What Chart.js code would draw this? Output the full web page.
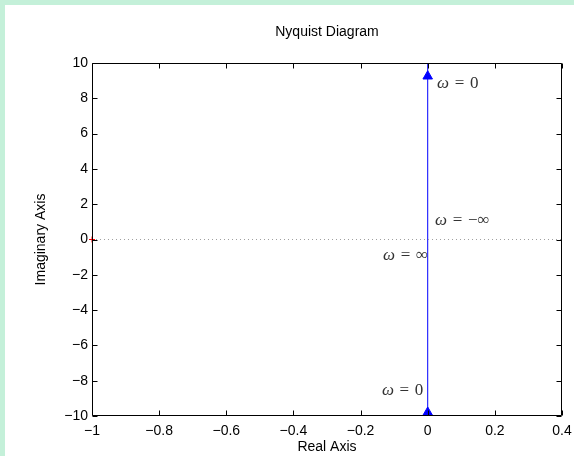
<!DOCTYPE html>
<html>
<head>
<meta charset="utf-8">
<script src="https://cdn.jsdelivr.net/npm/chart.js@4/dist/chart.umd.min.js"></script>
<style>
  html, body { margin: 0; padding: 0; background: #c4f0d9; width: 574px; height: 456px; overflow: hidden; }
  #wrap { position: absolute; left: 5px; top: 5px; width: 569px; height: 451px; background: #fff; }
</style>
</head>
<body>
<div id="wrap"><canvas id="myChart" width="569" height="451"></canvas></div>
<script>
// nyquist curve: vertical line on the imaginary axis
const curveRe = [0, 0];
const curveIm = [-10, 10];
// direction arrows
const arrowRe = [0, 0];
const arrowIm = [9.25, -9.8];
// critical point
const critRe = [-1];
const critIm = [0];
// dotted zero line
const zeroRe = [-1, 0.4];
const zeroIm = [0, 0];

const xTicks = [-1, -0.8, -0.6, -0.4, -0.2, 0, 0.2, 0.4];
const yTicks = [-10, -8, -6, -4, -2, 0, 2, 4, 6, 8, 10];

// omega annotations (value after "omega =")
const noteText = ['0', '\u2212\u221e', '\u221e', '0'];
const noteRe = [0.028, 0.022, 0.001, -0.013];
const noteIm = [8.83, 1.1, -0.89, -8.55];
const noteAlign = ['left', 'left', 'right', 'right'];

const pts = (xs, ys) => xs.map((x, i) => ({ x: x, y: ys[i] }));
const fmt = v => String(Math.round(v * 10) / 10).replace('-', '\u2212');
const SANS = '"Liberation Sans", Arial, sans-serif';

const boxPlugin = {
  id: 'box',
  afterDraw(chart) {
    const { ctx, chartArea: a, scales: { x, y } } = chart;
    ctx.save();
    ctx.strokeStyle = '#000';
    ctx.lineWidth = 1;
    ctx.beginPath();
    const L = Math.round(a.left) + 0.5, R = Math.round(a.right) - 0.5;
    const T = Math.round(a.top) + 0.5, B = Math.round(a.bottom) - 0.5;
    ctx.rect(L, T, R - L, B - T);
    xTicks.forEach(v => {
      const px = Math.round(x.getPixelForValue(v)) + 0.5;
      ctx.moveTo(px, B); ctx.lineTo(px, B - 5);
      ctx.moveTo(px, T); ctx.lineTo(px, T + 5);
    });
    yTicks.forEach(v => {
      const py = Math.round(y.getPixelForValue(v)) + 0.5;
      ctx.moveTo(L, py); ctx.lineTo(L + 5, py);
      ctx.moveTo(R, py); ctx.lineTo(R - 5, py);
    });
    ctx.stroke();

    // title centred over the axes
    ctx.fillStyle = '#000';
    ctx.font = '14px ' + SANS;
    ctx.textAlign = 'center';
    ctx.textBaseline = 'middle';
    ctx.fillText('Nyquist Diagram', (a.left + a.right) / 2, 27);

    // annotations: italic omega + upright rest
    ctx.fillStyle = '#333';
    ctx.textAlign = 'left';
    const omFont = 'italic 17px "Liberation Serif", serif';
    const rmFont = '17px "Liberation Serif", serif';
    noteText.forEach((t, i) => {
      ctx.font = omFont;
      const wo = ctx.measureText('\u03c9').width;
      ctx.font = rmFont;
      const rest = ' \u200a=\u200a ' + t;
      const wr = ctx.measureText(rest).width;
      let px = x.getPixelForValue(noteRe[i]);
      const py = y.getPixelForValue(noteIm[i]);
      if (noteAlign[i] === 'right') px -= wo + wr;
      ctx.font = omFont;
      ctx.fillText('\u03c9', px, py);
      ctx.font = rmFont;
      ctx.fillText(rest, px + wo, py);
    });
    ctx.restore();
  }
};

const ctx = document.getElementById('myChart').getContext('2d');
new Chart(ctx, {
  type: 'scatter',
  data: {
    datasets: [
      {
        data: pts(zeroRe, zeroIm), showLine: true, borderColor: '#a0a0a0',
        borderWidth: 1, borderDash: [1, 3], pointRadius: 0
      },
      {
        data: pts(curveRe, curveIm), showLine: true, borderColor: '#0000ff',
        borderWidth: 1, pointRadius: 0
      },
      {
        data: pts(arrowRe, arrowIm), showLine: false, pointStyle: 'triangle',
        pointRadius: 5.5, backgroundColor: '#0000ff', borderColor: '#0000ff', borderWidth: 1, clip: false
      },
      {
        data: pts(critRe, critIm), showLine: false, pointStyle: 'cross',
        pointRadius: 3, borderColor: '#ff0000', borderWidth: 1, clip: false
      }
    ]
  },
  options: {
    responsive: false,
    animation: false,
    layout: { padding: { top: 58, right: 12, left: 0, bottom: 0 } },
    plugins: { legend: { display: false }, tooltip: { enabled: false } },
    scales: {
      x: {
        type: 'linear', min: -1, max: 0.4,
        grid: { display: false, drawTicks: false },
        border: { display: false },
        afterBuildTicks: s => { s.ticks = xTicks.map(v => ({ value: v })); },
        afterFit: s => { s.height = 40; s.paddingLeft = 0; s.paddingRight = 0; },
        ticks: { padding: 7, color: '#000', font: { size: 14, family: SANS }, callback: fmt, maxRotation: 0 },
        title: { display: true, text: 'Real Axis', color: '#000', padding: { top: 0, bottom: 0 },
                 font: { size: 14, family: SANS } }
      },
      y: {
        type: 'linear', min: -10, max: 10,
        grid: { display: false, drawTicks: false },
        border: { display: false },
        afterBuildTicks: s => { s.ticks = yTicks.map(v => ({ value: v })); },
        afterFit: s => { s.width = 87; s.paddingTop = 0; s.paddingBottom = 0; },
        ticks: { padding: 4, color: '#000', font: { size: 14, family: SANS }, callback: fmt },
        title: { display: true, text: 'Imaginary Axis', color: '#000', padding: { top: 28, bottom: 0 },
                 font: { size: 14, family: SANS } }
      }
    }
  },
  plugins: [boxPlugin]
});
</script>
</body>
</html>
